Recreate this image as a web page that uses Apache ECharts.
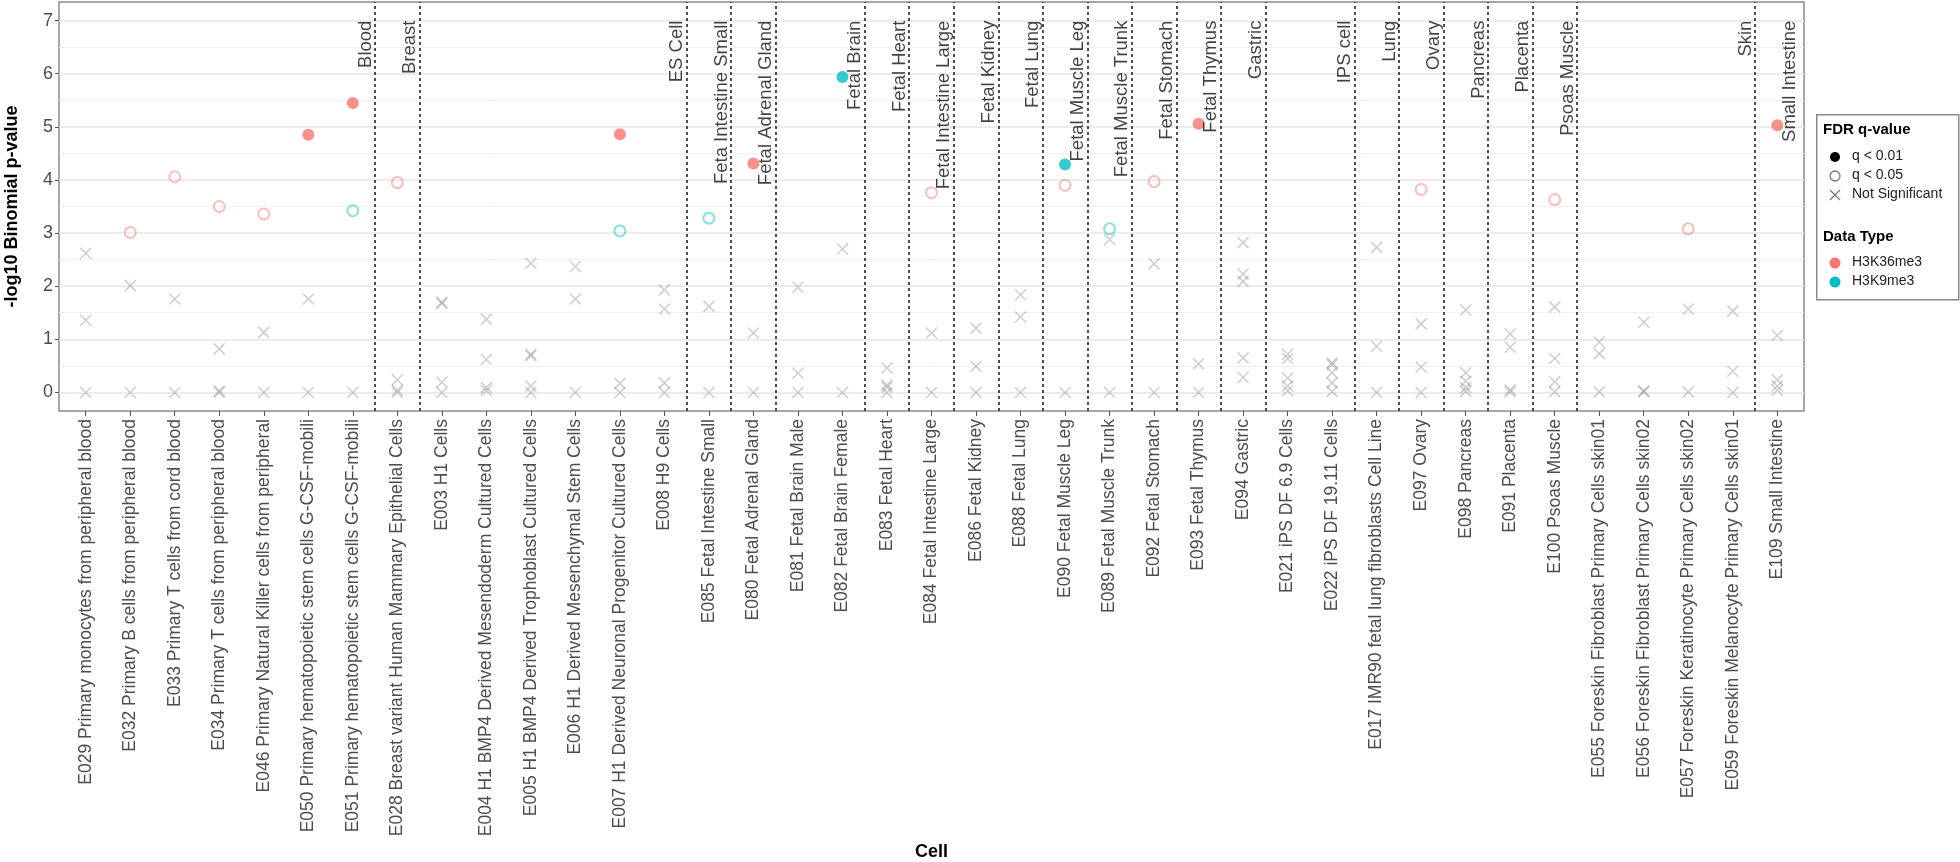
<!DOCTYPE html>
<html><head><meta charset="utf-8">
<script src="https://cdn.jsdelivr.net/npm/echarts@6/dist/echarts.min.js"></script>
<style>html,body{margin:0;padding:0;background:#fff}#c{width:1960px;height:862px}</style>
</head><body><div id="c"></div><script>
const categories = [
  "E029 Primary monocytes from peripheral blood",
  "E032 Primary B cells from peripheral blood",
  "E033 Primary T cells from cord blood",
  "E034 Primary T cells from peripheral blood",
  "E046 Primary Natural Killer cells from peripheral",
  "E050 Primary hematopoietic stem cells G-CSF-mobili",
  "E051 Primary hematopoietic stem cells G-CSF-mobili",
  "E028 Breast variant Human Mammary Epithelial Cells",
  "E003 H1 Cells",
  "E004 H1 BMP4 Derived Mesendoderm Cultured Cells",
  "E005 H1 BMP4 Derived Trophoblast Cultured Cells",
  "E006 H1 Derived Mesenchymal Stem Cells",
  "E007 H1 Derived Neuronal Progenitor Cultured Cells",
  "E008 H9 Cells",
  "E085 Fetal Intestine Small",
  "E080 Fetal Adrenal Gland",
  "E081 Fetal Brain Male",
  "E082 Fetal Brain Female",
  "E083 Fetal Heart",
  "E084 Fetal Intestine Large",
  "E086 Fetal Kidney",
  "E088 Fetal Lung",
  "E090 Fetal Muscle Leg",
  "E089 Fetal Muscle Trunk",
  "E092 Fetal Stomach",
  "E093 Fetal Thymus",
  "E094 Gastric",
  "E021 iPS DF 6.9 Cells",
  "E022 iPS DF 19.11 Cells",
  "E017 IMR90 fetal lung fibroblasts Cell Line",
  "E097 Ovary",
  "E098 Pancreas",
  "E091 Placenta",
  "E100 Psoas Muscle",
  "E055 Foreskin Fibroblast Primary Cells skin01",
  "E056 Foreskin Fibroblast Primary Cells skin02",
  "E057 Foreskin Keratinocyte Primary Cells skin02",
  "E059 Foreskin Melanocyte Primary Cells skin01",
  "E109 Small Intestine"
];
const groupNames = ["Blood","Breast","ES Cell","Feta Intestine Small","Fetal Adrenal Gland","Fetal Brain","Fetal Heart","Fetal Intestine Large","Fetal Kidney","Fetal Lung","Fetal Muscle Leg","Fetal Muscle Trunk","Fetal Stomach","Fetal Thymus","Gastric","IPS cell","Lung","Ovary","Pancreas","Placenta","Psoas Muscle","Skin","Small Intestine"];
const groupSizes = [7,1,6,1,1,2,1,1,1,1,1,1,1,1,1,2,1,1,1,1,1,4,1];
const yTicks = [0,1,2,3,4,5,6,7];
const yMinor = [0.5,1.5,2.5,3.5,4.5,5.5,6.5];

// [cell code, -log10 p]
const h3k36_q01 = [["E050",4.85],["E051",5.45],["E007",4.86],["E080",4.31],["E093",5.06],["E109",5.03]];
const h3k36_q05 = [["E032",3.01],["E033",4.06],["E034",3.50],["E046",3.36],["E028",3.95],["E084",3.76],["E090",3.90],["E092",3.97],["E097",3.82],["E100",3.63],["E057",3.08]];
const h3k9_q01 = [["E082",5.94],["E090",4.29]];
const h3k9_q05 = [["E051",3.42],["E007",3.04],["E085",3.28],["E089",3.08]];
const notSig = [
 ["E029",2.62],["E029",1.36],["E029",0],
 ["E032",2.01],["E032",0],
 ["E033",1.76],["E033",0],
 ["E034",0.82],["E034",0.03],["E034",0],
 ["E046",1.13],["E046",0],
 ["E050",1.76],["E050",0],
 ["E051",0],
 ["E028",0.24],["E028",0.04],["E028",0],
 ["E003",1.70],["E003",1.67],["E003",0.19],["E003",0],
 ["E004",1.38],["E004",0.62],["E004",0.09],["E004",0.03],
 ["E005",2.43],["E005",0.72],["E005",0.69],["E005",0.12],["E005",0],
 ["E006",2.37],["E006",1.76],["E006",0],
 ["E007",0.17],["E007",0],
 ["E008",1.93],["E008",1.57],["E008",0.18],["E008",0],
 ["E085",1.62],["E085",0],
 ["E080",1.12],["E080",0],
 ["E081",1.98],["E081",0.36],["E081",0],
 ["E082",2.70],["E082",0],
 ["E083",0.46],["E083",0.14],["E083",0.10],["E083",0],
 ["E084",1.12],["E084",0],
 ["E086",1.21],["E086",0.49],["E086",0],
 ["E088",1.84],["E088",1.42],["E088",0],
 ["E090",0],
 ["E089",2.88],["E089",0],
 ["E092",2.42],["E092",0],
 ["E093",0.54],["E093",0],
 ["E094",2.82],["E094",2.23],["E094",2.09],["E094",0.65],["E094",0.28],
 ["E021",0.72],["E021",0.64],["E021",0.27],["E021",0.12],["E021",0.03],
 ["E022",0.56],["E022",0.52],["E022",0.37],["E022",0.18],["E022",0.02],
 ["E017",2.73],["E017",0.87],["E017",0],
 ["E097",1.29],["E097",0.48],["E097",0],
 ["E098",1.55],["E098",0.37],["E098",0.21],["E098",0.09],["E098",0.02],
 ["E091",1.10],["E091",0.85],["E091",0.05],["E091",0.01],
 ["E100",1.61],["E100",0.64],["E100",0.20],["E100",0.01],
 ["E055",0.95],["E055",0.73],["E055",0.01],
 ["E056",1.32],["E056",0.03],["E056",0.01],
 ["E057",1.57],["E057",0.01],
 ["E059",1.53],["E059",0.40],["E059",0],
 ["E109",1.07],["E109",0.24],["E109",0.12],["E109",0.04]
];

const codes = categories.map(c => c.split(" ")[0]);
const toXY = arr => arr.map(([c, v]) => [codes.indexOf(c), v]);
const catIdx = categories.map((_, i) => i);

// group boundaries
const groupEnds = [];
{ let s = 0; groupSizes.forEach(n => { s += n; groupEnds.push(s - 0.5); }); }
const vlines = groupEnds.slice(0, -1);

const RED = "#F8766D", TEAL = "#00BFC4";
const FONT = "'Liberation Sans', Arial, Helvetica, sans-serif";
const xSym = "path://M0,0L10,10M10,0L0,10";

const chart = echarts.init(document.getElementById("c"), null, {renderer: "canvas"});
chart.setOption({
  animation: false,
  backgroundColor: "#fff",
  textStyle: {fontFamily: FONT},
  grid: {left: 59, right: 156, top: 2, bottom: 451, show: true, borderColor: "#8a8a8a", borderWidth: 1.5,
         backgroundColor: "transparent", containLabel: false, outerBoundsMode: "none"},
  xAxis: {
    type: "value", min: -0.6, max: 38.6,
    name: "Cell", nameLocation: "middle", nameGap: 432,
    nameTextStyle: {fontFamily: FONT, fontSize: 18, fontWeight: "bold", color: "#000"},
    axisLine: {show: false, onZero: false},
    splitLine: {show: false},
    axisTick: {show: true, customValues: catIdx, length: 5, lineStyle: {color: "#555", width: 1}},
    axisLabel: {customValues: catIdx, rotate: 90, margin: 8, fontSize: 17.5, color: "#4d4d4d", fontFamily: FONT,
                formatter: v => categories[Math.round(v)] || ""}
  },
  yAxis: {
    type: "value", min: -0.35, max: 7.35,
    name: "-log10 Binomial p-value", nameLocation: "middle", nameGap: 38,
    nameTextStyle: {fontFamily: FONT, fontSize: 18, fontWeight: "bold", color: "#000"},
    axisLine: {show: false, onZero: false},
    splitLine: {show: false},
    axisTick: {show: true, customValues: yTicks, length: 4, lineStyle: {color: "#555", width: 1}},
    axisLabel: {customValues: yTicks, margin: 6, fontSize: 18, color: "#4d4d4d", fontFamily: FONT}
  },
  series: [
    { type: "scatter", name: "grid", data: [], silent: true, z: 1,
      markLine: { silent: true, z: 1, symbol: ["none","none"], label: {show: false}, animation: false,
        data: yMinor.map(v => ({yAxis: v, lineStyle: {color: "#f0f0f0", width: 1, type: "solid"}}))
          .concat(yTicks.map(v => ({yAxis: v, lineStyle: {color: "#e6e6e6", width: 1.5, type: "solid"}})))
          .concat(vlines.map(v => ({xAxis: v, lineStyle: {color: "#3a3a3a", width: 1.8, type: [3, 3]}})))
      }
    },
    { type: "scatter", name: "Not Significant", data: toXY(notSig), symbol: xSym, symbolSize: 11, z: 3,
      itemStyle: {color: "transparent", borderColor: "rgba(120,120,120,0.45)", borderWidth: 1.5} },
    { type: "scatter", name: "H3K36me3 q<0.05", data: toXY(h3k36_q05), symbol: "circle", symbolSize: 11, z: 4,
      itemStyle: {color: "transparent", borderColor: "rgba(248,118,109,0.6)", borderWidth: 2} },
    { type: "scatter", name: "H3K9me3 q<0.05", data: toXY(h3k9_q05), symbol: "circle", symbolSize: 11, z: 4,
      itemStyle: {color: "transparent", borderColor: "rgba(0,191,196,0.6)", borderWidth: 2} },
    { type: "scatter", name: "H3K36me3 q<0.01", data: toXY(h3k36_q01), symbol: "circle", symbolSize: 12, z: 5,
      itemStyle: {color: RED} },
    { type: "scatter", name: "H3K9me3 q<0.01", data: toXY(h3k9_q01), symbol: "circle", symbolSize: 12, z: 5,
      itemStyle: {color: TEAL} },
    { type: "scatter", name: "groups", silent: true, z: 6, symbolSize: 0,
      data: groupNames.map((n, i) => ({name: n, value: [groupEnds[i], 7]})),
      label: {show: true, position: "inside", formatter: "{b}", rotate: 90, align: "right", verticalAlign: "bottom",
              fontSize: 18.5, color: "#111", fontFamily: FONT} }
  ],
  graphic: [
    {type: "rect", left: 1816, top: 114, shape: {width: 142, height: 185}, style: {fill: "#fff", stroke: "#8a8a8a", lineWidth: 1.5}, z: 10},
    {type: "text", left: 1823, top: 122, style: {text: "FDR q-value", font: "bold 15px " + FONT, fill: "#000"}, z: 11},
    {type: "circle", shape: {cx: 1835, cy: 157, r: 5}, style: {fill: "#000"}, z: 11},
    {type: "circle", shape: {cx: 1835, cy: 176, r: 5}, style: {fill: "none", stroke: "#777", lineWidth: 1.3}, z: 11},
    {type: "polyline", shape: {points: [[1830,190],[1840,200]]}, style: {stroke: "#777", lineWidth: 1.3}, z: 11},
    {type: "polyline", shape: {points: [[1840,190],[1830,200]]}, style: {stroke: "#777", lineWidth: 1.3}, z: 11},
    {type: "text", left: 1852, top: 149, style: {text: "q < 0.01", font: "14px " + FONT, fill: "#222"}, z: 11},
    {type: "text", left: 1852, top: 168, style: {text: "q < 0.05", font: "14px " + FONT, fill: "#222"}, z: 11},
    {type: "text", left: 1852, top: 187, style: {text: "Not Significant", font: "14px " + FONT, fill: "#222"}, z: 11},
    {type: "text", left: 1823, top: 229, style: {text: "Data Type", font: "bold 15px " + FONT, fill: "#000"}, z: 11},
    {type: "circle", shape: {cx: 1835, cy: 263, r: 5.5}, style: {fill: RED}, z: 11},
    {type: "circle", shape: {cx: 1835, cy: 282, r: 5.5}, style: {fill: TEAL}, z: 11},
    {type: "text", left: 1852, top: 255, style: {text: "H3K36me3", font: "14px " + FONT, fill: "#222"}, z: 11},
    {type: "text", left: 1852, top: 274, style: {text: "H3K9me3", font: "14px " + FONT, fill: "#222"}, z: 11}
  ]
});
</script></body></html>
